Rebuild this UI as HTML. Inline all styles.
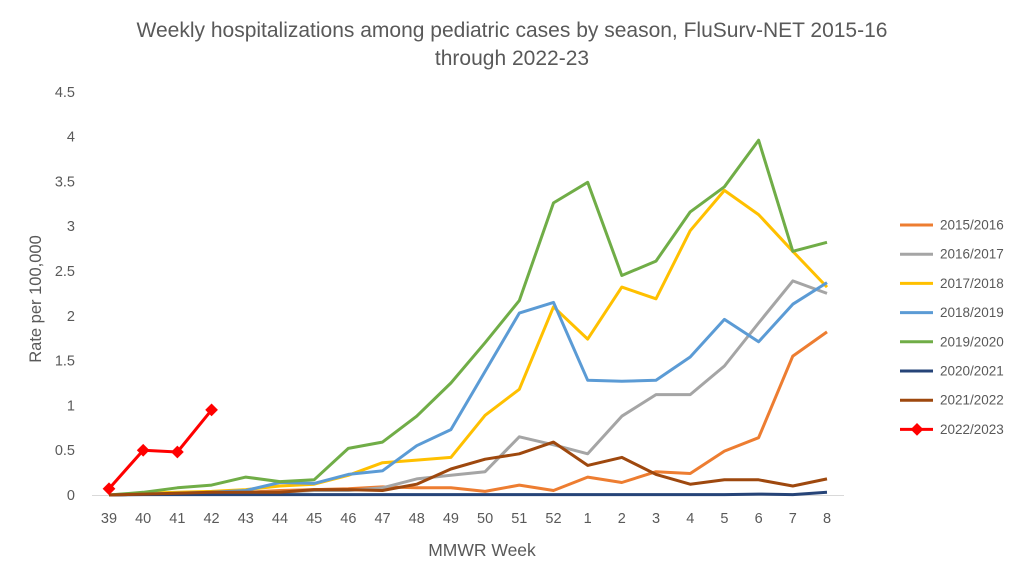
<!DOCTYPE html>
<html><head><meta charset="utf-8"><style>
html,body{margin:0;padding:0;background:#fff;}
svg{display:block;font-family:"Liberation Sans",sans-serif;}
</style></head><body>
<svg id="c" width="1024" height="583" viewBox="0 0 1024 583" xmlns="http://www.w3.org/2000/svg">
<rect x="0" y="0" width="1024" height="583" fill="#fff"/>
<text x="512" y="37" font-size="21" fill="#595959" text-anchor="middle">Weekly hospitalizations among pediatric cases by season, FluSurv-NET 2015-16</text>
<text x="512" y="65" font-size="21" fill="#595959" text-anchor="middle">through 2022-23</text>
<text transform="translate(41,299) rotate(-90)" font-size="16.5" fill="#595959" text-anchor="middle">Rate per 100,000</text>
<text x="482" y="556" font-size="17.5" fill="#595959" text-anchor="middle">MMWR Week</text>
<line x1="92" y1="495.5" x2="844" y2="495.5" stroke="#d9d9d9" stroke-width="1"/>
<g id="g"></g>
</svg>
<script>
var s=document.getElementById('c'),g=document.getElementById('g'),NS='http://www.w3.org/2000/svg';
function el(n,a,t){var e=document.createElementNS(NS,n);for(var k in a)e.setAttribute(k,a[k]);if(t!=null)e.textContent=t;g.appendChild(e);return e;}
function X(i){return 109+i*34.19;}function Y(v){return 495-v*89.6;}
var yl=['0','0.5','1','1.5','2','2.5','3','3.5','4','4.5'];
yl.forEach(function(t,i){el('text',{x:75,y:Y(i*0.5)+5,'font-size':14.5,fill:'#595959','text-anchor':'end'},t);});
var xl=[39,40,41,42,43,44,45,46,47,48,49,50,51,52,1,2,3,4,5,6,7,8];
xl.forEach(function(t,i){el('text',{x:X(i),y:523,'font-size':14.5,fill:'#595959','text-anchor':'middle'},t);});
var S=[
['2015/2016','#ed7d31',[0,0.01,0.02,0.03,0.03,0.05,0.06,0.07,0.09,0.08,0.08,0.04,0.11,0.05,0.2,0.14,0.26,0.24,0.49,0.64,1.55,1.82]],
['2016/2017','#a5a5a5',[0,0.01,0.02,0.02,0.03,0.03,0.05,0.05,0.08,0.18,0.22,0.26,0.65,0.56,0.46,0.88,1.12,1.12,1.44,1.92,2.39,2.25]],
['2017/2018','#ffc000',[0,0.02,0.03,0.04,0.06,0.1,0.12,0.22,0.36,0.39,0.42,0.89,1.18,2.1,1.74,2.32,2.19,2.95,3.4,3.13,2.72,2.32]],
['2018/2019','#5b9bd5',[0,0.01,0.02,0.03,0.05,0.14,0.13,0.23,0.27,0.55,0.73,1.38,2.03,2.15,1.28,1.27,1.28,1.54,1.96,1.71,2.13,2.37]],
['2019/2020','#70ad47',[0,0.03,0.08,0.11,0.2,0.15,0.17,0.52,0.59,0.88,1.25,1.7,2.17,3.26,3.49,2.45,2.61,3.16,3.44,3.96,2.72,2.82]],
['2020/2021','#264478',[0,0.005,0.005,0.005,0.005,0.005,0.005,0.005,0.005,0.005,0.005,0.005,0.005,0.005,0.005,0.005,0.005,0.005,0.005,0.01,0.005,0.03]],
['2021/2022','#9e480e',[0,0.01,0.02,0.03,0.03,0.03,0.06,0.06,0.05,0.12,0.29,0.4,0.46,0.59,0.33,0.42,0.23,0.12,0.17,0.17,0.1,0.18]],
['2022/2023','#ff0000',[0.07,0.5,0.48,0.95]]];
S.forEach(function(s,k){
 var p=s[2].map(function(v,i){return X(i).toFixed(1)+','+Y(v).toFixed(1);}).join(' ');
 el('polyline',{points:p,fill:'none',stroke:s[1],'stroke-width':3,'stroke-linejoin':'round'});
 var ly=225+k*29.2;
 el('line',{x1:900,y1:ly,x2:933,y2:ly,stroke:s[1],'stroke-width':3});
 if(k==7){el('rect',{x:912.5,y:ly-4.5,width:9,height:9,fill:'#ff0000',transform:'rotate(45 917 '+ly+')'});
  s[2].forEach(function(v,i){el('rect',{x:X(i)-4.5,y:Y(v)-4.5,width:9,height:9,fill:'#ff0000',transform:'rotate(45 '+X(i)+' '+Y(v)+')'});});}
 el('text',{x:940,y:ly+4.5,'font-size':13.5,fill:'#595959'},s[0]);
});
</script>
</body></html>
